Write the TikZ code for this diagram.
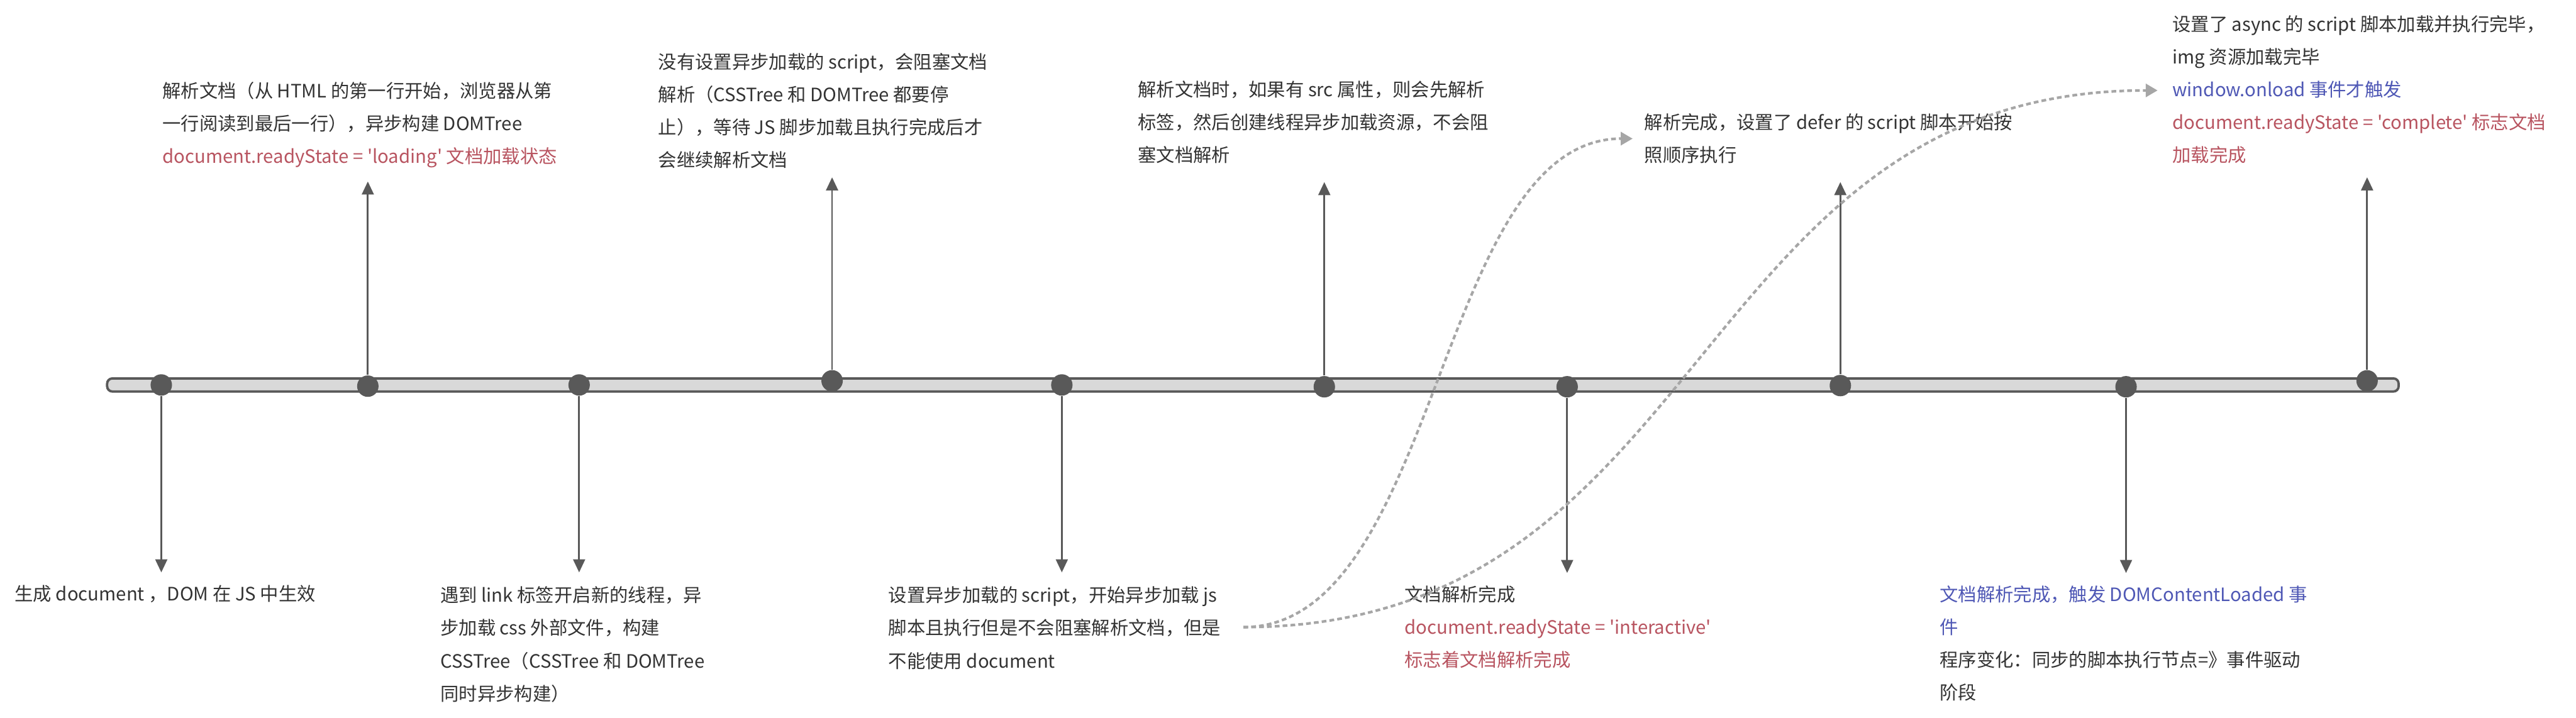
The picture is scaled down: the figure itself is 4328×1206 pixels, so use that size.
\documentclass[tikz,border=0pt]{standalone}
\usepackage{fontspec}
\newfontfamily\cjk{Noto Sans CJK SC}
\usetikzlibrary{arrows.meta}
\definecolor{tdark}{HTML}{333333}
\definecolor{tred}{HTML}{B85460}
\definecolor{tblue}{HTML}{4F58B5}
\definecolor{axgray}{HTML}{595959}
\definecolor{barfill}{HTML}{D9D9D9}
\definecolor{curvegray}{HTML}{A6A6A6}
\tikzset{
  txt/.style={anchor=north west, inner sep=0pt, outer sep=0pt, align=left,
    font=\cjk\fontsize{7.75pt}{13.75pt}\selectfont, text=tdark},
  dot/.style={circle, fill=axgray, draw=none, minimum size=9pt, inner sep=0pt},
  axarrow/.style={draw=axgray, line width=0.75pt, -{Triangle[length=5.5pt,width=5pt]}},
  dashcurve/.style={draw=curvegray, line width=1.1pt, dash pattern=on 2pt off 1.3pt,
    -{Triangle[length=5pt,width=5.5pt]}},
  barstyle/.style={draw=axgray, fill=barfill, line width=1pt, rounded corners=2.2pt}
}
\begin{document}
\begin{tikzpicture}[x=0.25pt, y=-0.25pt]
\useasboundingbox (0,0) rectangle (4328,1206);
% timeline bar
\draw[barstyle] (180,636) rectangle (4030,658);
% dots
\node[dot] (d1) at (271,647) {};
\node[dot] (d2) at (618,649) {};
\node[dot] (d3) at (973,647) {};
\node[dot] (d4) at (1398,640) {};
\node[dot] (d5) at (1784,647) {};
\node[dot] (d6) at (2225,650) {};
\node[dot] (d7) at (2633,650) {};
\node[dot] (d8) at (3092,648) {};
\node[dot] (d9) at (3572,650) {};
\node[dot] (d10) at (3977,640) {};
% arrow ends
\coordinate (e1) at (271,962);
\coordinate (e2) at (618,305);
\coordinate (e3) at (973,962);
\coordinate (e4) at (1398,298);
\coordinate (e5) at (1784,962);
\coordinate (e6) at (2225,306);
\coordinate (e7) at (2633,963);
\coordinate (e8) at (3092,306);
\coordinate (e9) at (3572,963);
\coordinate (e10) at (3977,298);
\foreach \i in {1,...,10} { \draw[axarrow] (d\i) -- (e\i); }
% top texts
\node[txt] (tA) at (273,138) {解析文档（从 HTML 的第一行开始，浏览器从第\\一行阅读到最后一行），异步构建 DOMTree\\\textcolor{tred}{document.readyState = 'loading' 文档加载状态}};
\node[txt] (tB) at (1106,89) {没有设置异步加载的 script，会阻塞文档\\解析（CSSTree 和 DOMTree 都要停\\止），等待 JS 脚步加载且执行完成后才\\会继续解析文档};
\node[txt] (tC) at (1912,136) {解析文档时，如果有 src 属性，则会先解析\\标签，然后创建线程异步加载资源，不会阻\\塞文档解析};
\node[txt] (tD) at (2763,191) {解析完成，设置了 defer 的 script 脚本开始按\\照顺序执行};
\node[txt] (tE) at (3650,26) {设置了 async 的 script 脚本加载并执行完毕，\\img 资源加载完毕\\\textcolor{tblue}{window.onload 事件才触发}\\\textcolor{tred}{document.readyState = 'complete' 标志文档}\\\textcolor{tred}{加载完成}};
% bottom texts
\node[txt] (tF) at (25,984) {生成 document ，DOM 在 JS 中生效};
\node[txt] (tG) at (740,986) {遇到 link 标签开启新的线程，异\\步加载 css 外部文件，构建\\CSSTree（CSSTree 和 DOMTree\\同时异步构建）};
\node[txt] (tH) at (1493,986) {设置异步加载的 script，开始异步加载 js\\脚本且执行但是不会阻塞解析文档，但是\\不能使用 document};
\node[txt] (tI) at (2360,984) {文档解析完成\\\textcolor{tred}{document.readyState = 'interactive'}\\\textcolor{tred}{标志着文档解析完成}};
\node[txt] (tJ) at (3259,984) {\textcolor{tblue}{文档解析完成，触发 DOMContentLoaded 事}\\\textcolor{tblue}{件}\\程序变化：同步的脚本执行节点=》事件驱动\\阶段};
% dashed curves
\coordinate (cs) at (2089,1054);
\coordinate (ceD) at (2743,233);
\coordinate (ceE) at (3625,152);
\draw[dashcurve] (cs) .. controls +(330,0) and +(-330,0) .. (ceD);
\draw[dashcurve] (cs) .. controls +(790,0) and +(-790,0) .. (ceE);
\end{tikzpicture}
\end{document}
